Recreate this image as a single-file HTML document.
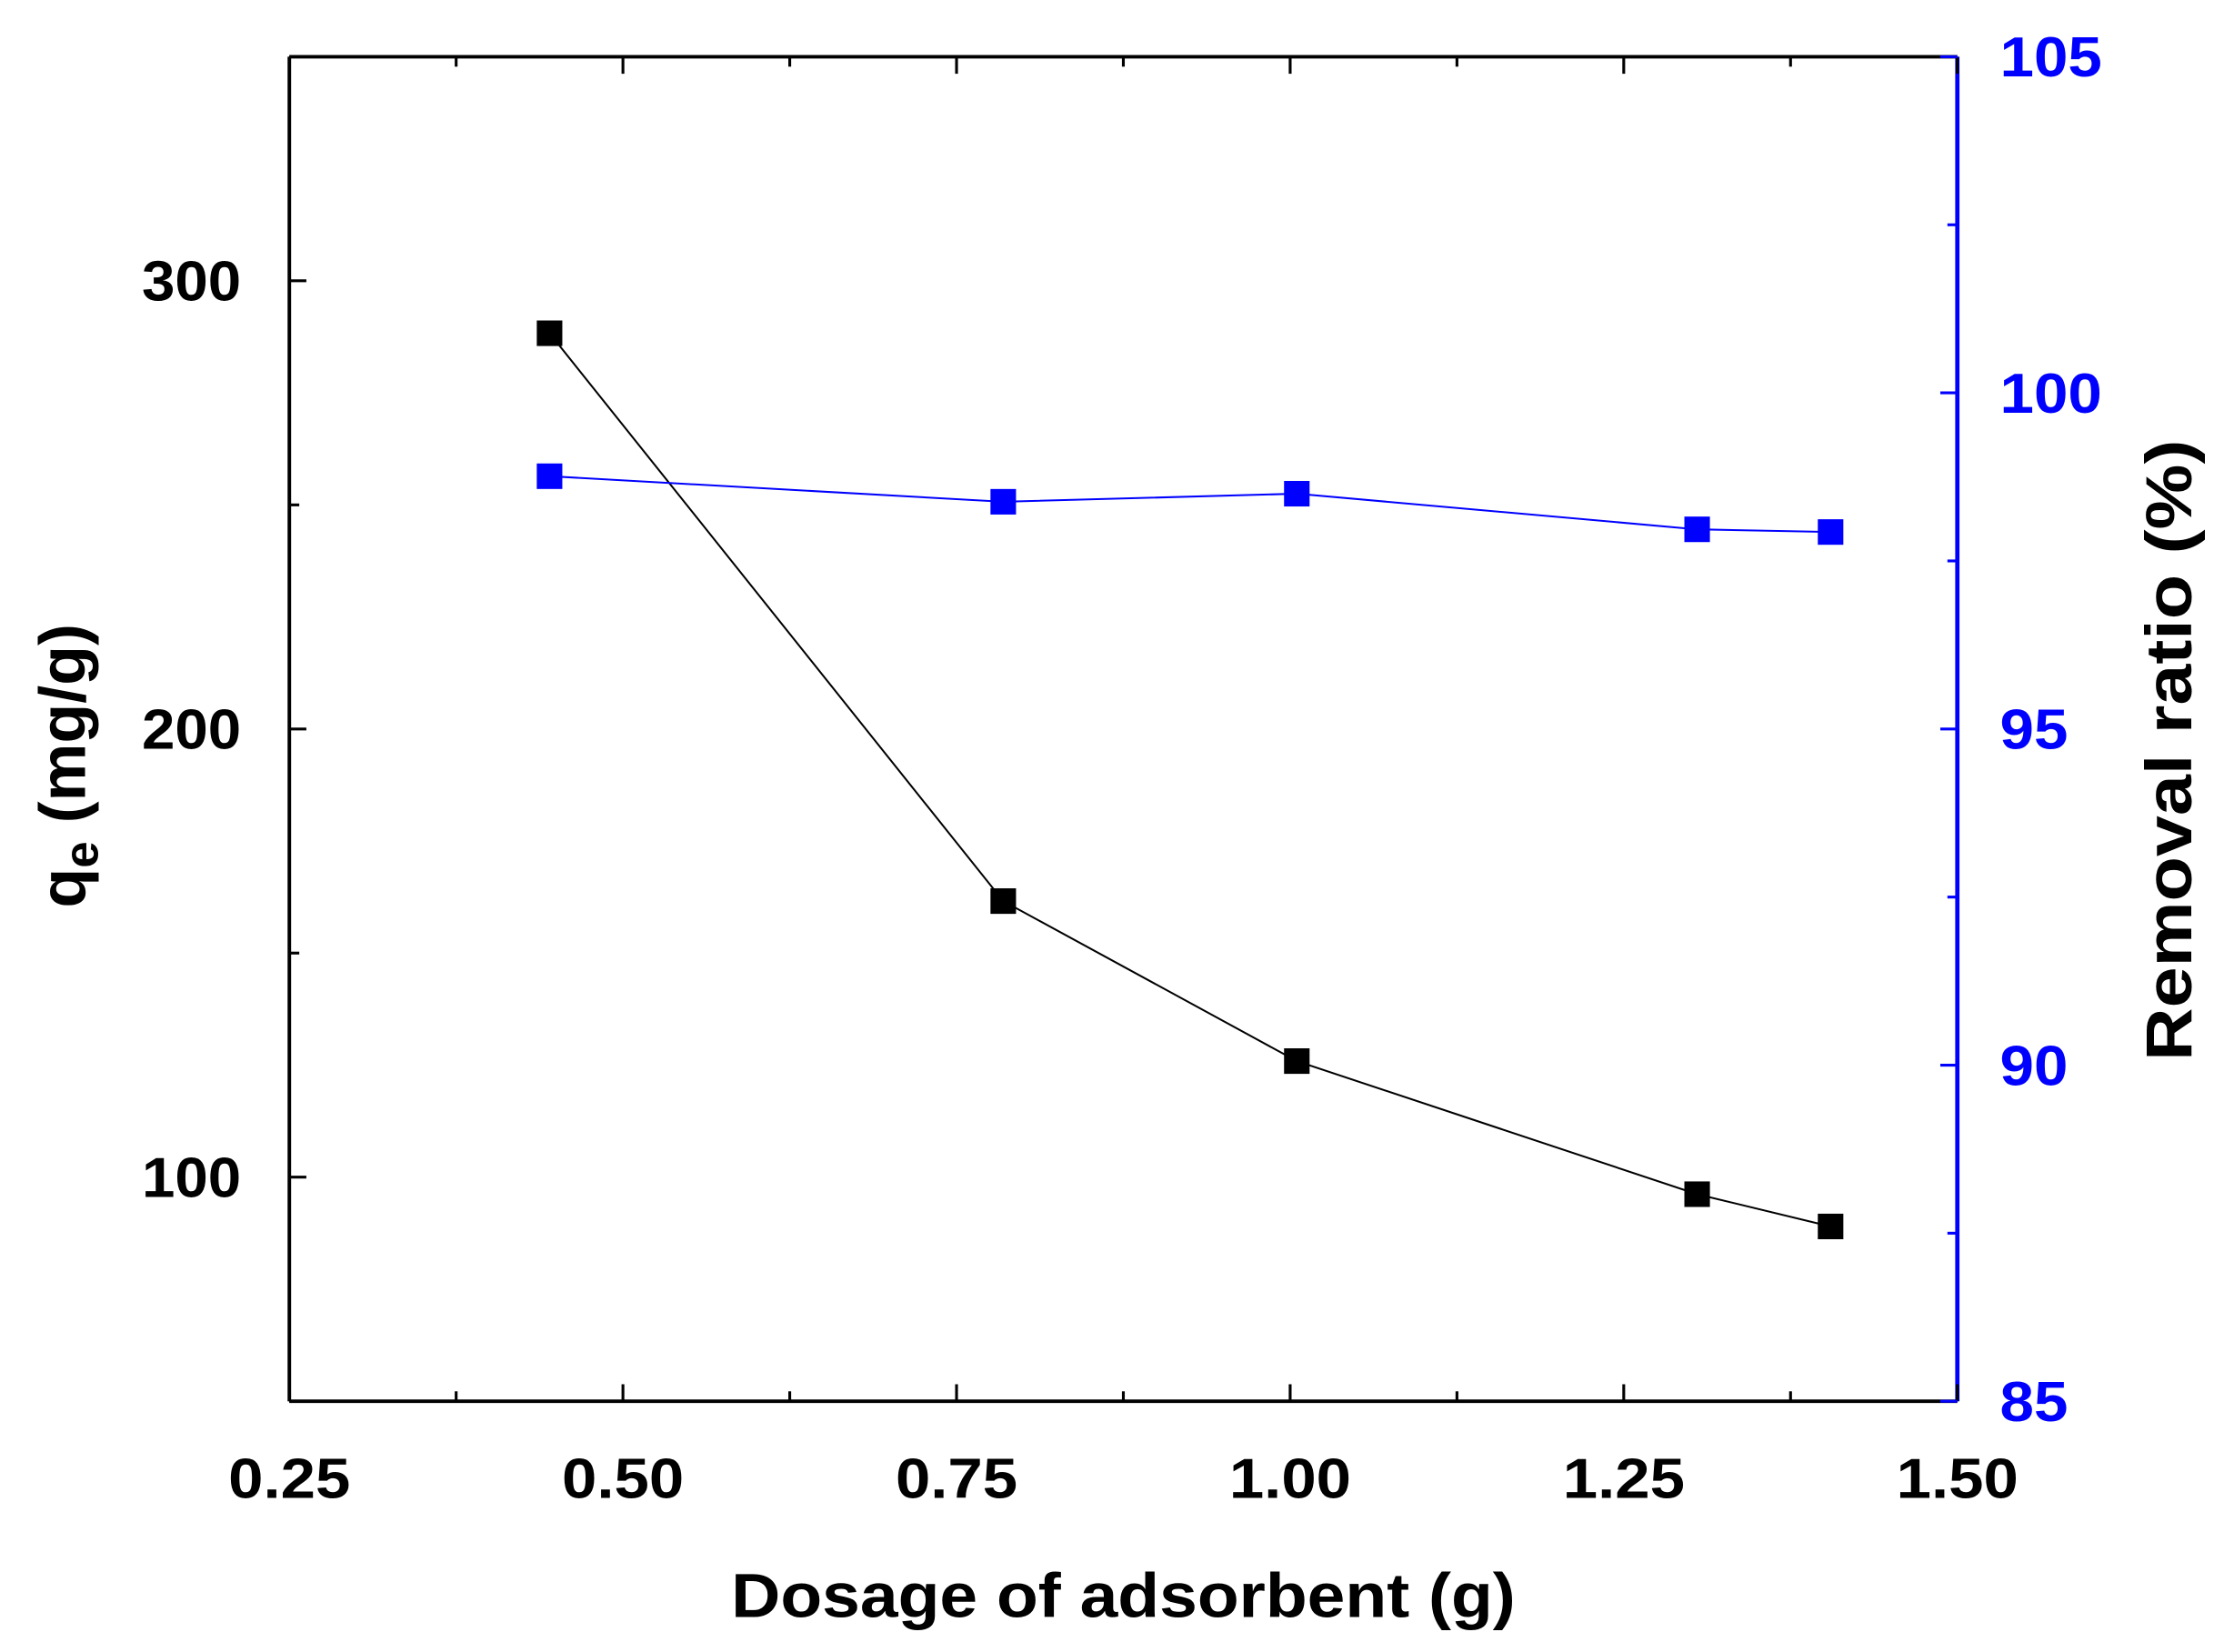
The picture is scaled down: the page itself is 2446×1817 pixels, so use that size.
<!DOCTYPE html>
<html><head><meta charset="utf-8"><style>
html,body{margin:0;padding:0;background:#fff}
svg{display:block}
text{font-family:"Liberation Sans",Arial,sans-serif;font-weight:bold}
</style></head><body>
<svg id="chart" width="2446" height="1817" viewBox="0 0 1568 1164.8" preserveAspectRatio="none" xmlns="http://www.w3.org/2000/svg">
<g id="axes"></g><g id="plot"></g>
</svg>
<script>
const xValues=[0.445,0.785,1.005,1.305,1.405];
const qeValues=[288.3,161.6,125.9,96.2,89.0];
const removalValues=[98.76,98.38,98.5,97.97,97.93];
const xTicks=["0.25","0.50","0.75","1.00","1.25","1.50"];
const yLeftTicks=["100","200","300"];
const yRightTicks=["85","90","95","100","105"];

const L=204,R=1380,T=40,B=988;
const X=v=>L+(v-0.25)/(1.25)*(R-L);
const YL=v=>B-(v-50)/300*(B-T);
const YR=v=>B-(v-85)/20*(B-T);
const NS="http://www.w3.org/2000/svg";
const axes=document.getElementById('axes'),plot=document.getElementById('plot');
function mk(tag,attrs,parent,txt){const e=document.createElementNS(NS,tag);for(const k in attrs)e.setAttribute(k,attrs[k]);if(txt!==undefined)e.textContent=txt;parent.appendChild(e);return e;}

let e;
e=mk('line',{x1:L,y1:T,x2:R,y2:T,stroke:'#000','stroke-width':2.5},axes);


e=mk('line',{x1:L,y1:B,x2:R,y2:B,stroke:'#000','stroke-width':2.5},axes);


e=mk('line',{x1:L,y1:T,x2:L,y2:B,stroke:'#000','stroke-width':2.5},axes);


e=mk('line',{x1:R,y1:T,x2:R,y2:B,stroke:'#0000ff','stroke-width':3},axes);



for(let v=0.25;v<=1.5001;v+=0.125){
  const major=Math.abs((v/0.25)-Math.round(v/0.25))<1e-6;const len=major?12:7;
  mk('line',{x1:X(v),y1:B,x2:X(v),y2:B-len,stroke:'#000','stroke-width':2},axes);
  mk('line',{x1:X(v),y1:T,x2:X(v),y2:T+len,stroke:'#000','stroke-width':2},axes);
}
xTicks.forEach(t=>{
  e=mk('text',{x:X(parseFloat(t)),y:1056,'font-size':40,'text-anchor':'middle',fill:'#000',textLength:86,lengthAdjust:'spacingAndGlyphs'},axes,t);
  
  
});
for(let v=50;v<=350;v+=50){
  const major=v%100===0;const len=major?12:7;
  mk('line',{x1:L,y1:YL(v),x2:L+len,y2:YL(v),stroke:'#000','stroke-width':2},axes);
}
yLeftTicks.forEach(t=>{
  e=mk('text',{x:170,y:YL(+t)+14,'font-size':40,'text-anchor':'end',fill:'#000',textLength:70,lengthAdjust:'spacingAndGlyphs'},axes,t);
  
  
});
for(let v=85;v<=105;v+=2.5){
  const major=v%5===0;const len=major?12:7;
  mk('line',{x1:R,y1:YR(v),x2:R-len,y2:YR(v),stroke:'#0000ff','stroke-width':2},axes);
}
yRightTicks.forEach(t=>{
  e=mk('text',{x:1410,y:YR(+t)+14,'font-size':40,'text-anchor':'start',fill:'#0000ff',textLength:t.length*24,lengthAdjust:'spacingAndGlyphs'},axes,t);
  
  
});
e=mk('text',{x:792,y:1140,'font-size':44,'text-anchor':'middle',fill:'#000',textLength:553,lengthAdjust:'spacingAndGlyphs'},axes,'Dosage of adsorbent (g)');


e=mk('text',{x:0,y:0,'font-size':46,'text-anchor':'middle',fill:'#000',transform:'translate(60,540) rotate(-90)'},axes);


mk('tspan',{},e,'q');mk('tspan',{'font-size':34,dy:9},e,'e');mk('tspan',{dy:-9},e,' (mg/g)');
e=mk('text',{x:0,y:0,'font-size':46,'text-anchor':'middle',fill:'#000',transform:'translate(1545,529) rotate(-90)',textLength:438,lengthAdjust:'spacingAndGlyphs'},axes,'Removal ratio (%)');



function series(vals,Y,color,name){
  const pts=xValues.map((x,i)=>X(x)+','+Y(vals[i])).join(' ');
  e=mk('polyline',{points:pts,fill:'none',stroke:color,'stroke-width':1.3},plot);
  
  
  xValues.forEach((x,i)=>{
    e=mk('rect',{x:X(x)-9,y:Y(vals[i])-9,width:18,height:18,fill:color},plot);
    
    
  });
}
series(qeValues,YL,'#000','qe-series');
series(removalValues,YR,'#0000ff','removal-series');
</script>
</body></html>
